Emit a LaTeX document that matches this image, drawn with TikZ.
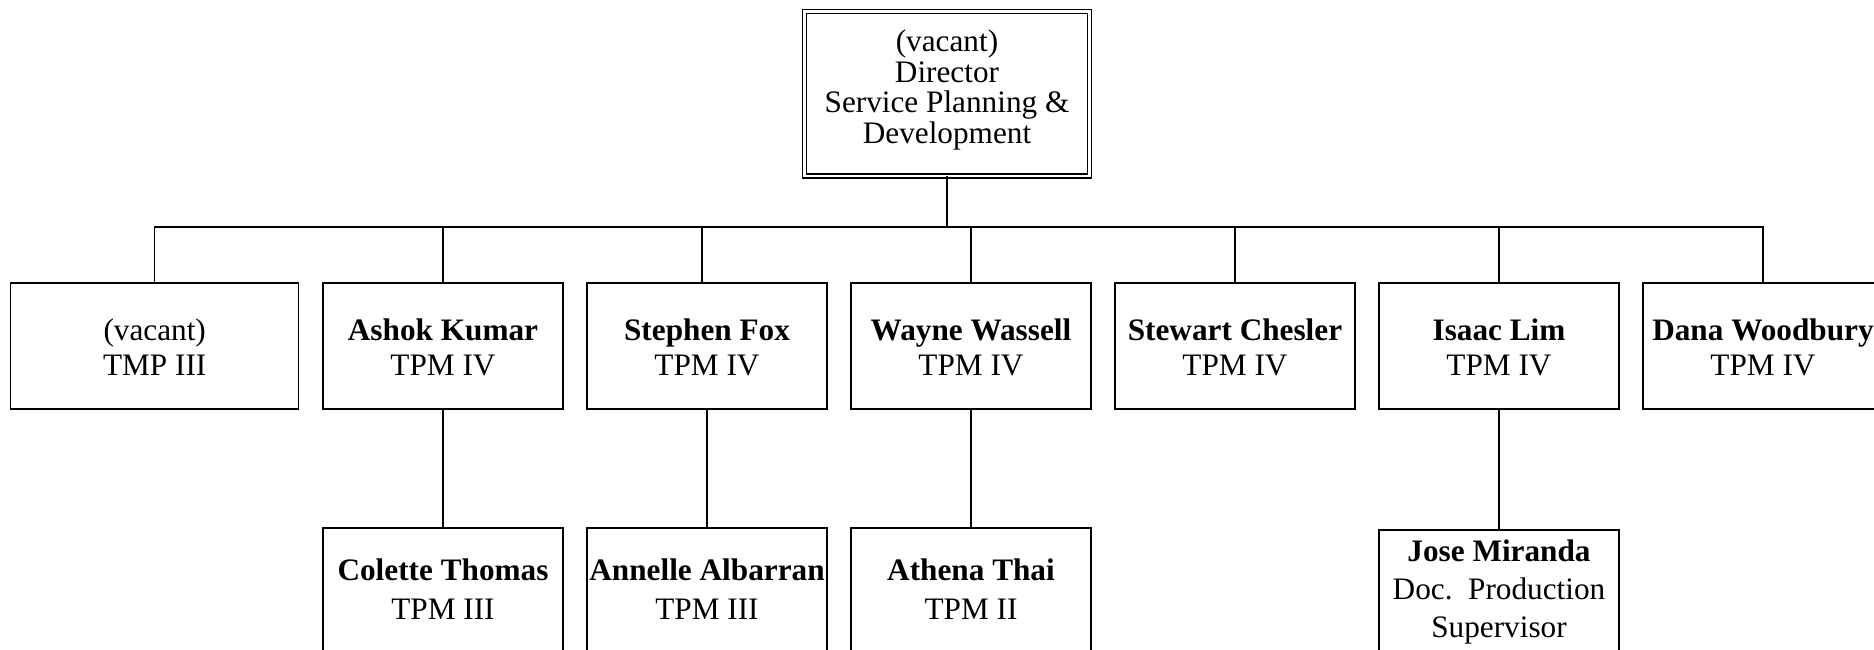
\documentclass[tikz,border=0pt]{standalone}
\usepackage{fontspec}
\setmainfont{Liberation Serif}
\begin{document}
\begin{tikzpicture}[x=0.4pt,y=-0.4pt,
  box/.style={draw, line width=0.6pt, inner sep=0pt, outer sep=0pt, minimum width=96pt, minimum height=50.4pt},
  lowbox/.style={box, minimum height=56pt},
  dirbox/.style={draw, line width=0.6pt, double, double distance=1pt, inner sep=0pt, outer sep=0pt, minimum width=114pt, minimum height=65.9pt},
  txt/.style={align=center, inner sep=0pt, font=\fontsize{12.5}{14}\selectfont},
  lowtxt/.style={txt, font=\fontsize{12.5}{15.6}\selectfont},
  dirtxt/.style={txt, font=\fontsize{12.5}{12.3}\selectfont},
  jtxt/.style={txt, font=\fontsize{12.5}{15.2}\selectfont},
  link/.style={draw, line width=0.6pt}]
\clip (0,0) rectangle (1874,649);
% director
\node[dirbox] (dir) at (947.2,93.7) {};
\node[dirtxt] (dirt) at (947,90) {(vacant)\\Director\\Service Planning \&\\Development};
\coordinate (busL) at (155,227);
\coordinate (busR) at (1763,227);
% level 1
\node[box, minimum width=115.2pt] (v1) at (154.7,346) {};
\node[txt] (v1t) at (154.7,347) {(vacant)\\TMP III};
\node[box] (ak) at (443,346) {};
\node[txt] (akt) at (443,347) {\textbf{Ashok Kumar}\\TPM IV};
\node[box] (sf) at (707,346) {};
\node[txt] (sft) at (707,347) {\textbf{Stephen Fox}\\TPM IV};
\node[box] (ww) at (971,346) {};
\node[txt] (wwt) at (971,347) {\textbf{Wayne Wassell}\\TPM IV};
\node[box] (sc) at (1235,346) {};
\node[txt] (sct) at (1235,347) {\textbf{Stewart Chesler}\\TPM IV};
\node[box] (il) at (1499,346) {};
\node[txt] (ilt) at (1499,347) {\textbf{Isaac Lim}\\TPM IV};
\node[box] (dw) at (1763,346) {};
\node[txt] (dwt) at (1763,347) {\textbf{Dana Woodbury}\\TPM IV};
% level 2
\node[lowbox] (ct) at (443,598) {};
\node[lowtxt] (ctt) at (443,589) {\textbf{Colette Thomas}\\TPM III};
\node[lowbox] (aa) at (707,598) {};
\node[lowtxt] (aat) at (707,589) {\textbf{Annelle Albarran}\\TPM III};
\node[lowbox] (at) at (971,598) {};
\node[lowtxt] (att) at (971,589) {\textbf{Athena Thai}\\TPM II};
\node[lowbox] (jm) at (1499,600) {};
\node[jtxt] (jmt) at (1499,592) {\textbf{Jose Miranda}\\Doc.\ \ Production\\Supervisor};
% connectors
\draw[link] (dir.south) -- (dir.south |- busL);
\draw[link] (v1.north) -- (v1.north |- busL) -- (busR) -- (dw.north);
\draw[link] (ak.north) -- (ak.north |- busL);
\draw[link] ([xshift=-2pt]sf.north) -- ([xshift=-2pt]sf.north |- busL);
\draw[link] (ww.north) -- (ww.north |- busL);
\draw[link] (sc.north) -- (sc.north |- busL);
\draw[link] (il.north) -- (il.north |- busL);
\draw[link] (ak.south) -- (ct.north);
\draw[link] (sf.south) -- (aa.north);
\draw[link] (ww.south) -- (at.north);
\draw[link] (il.south) -- (jm.north);
\end{tikzpicture}
\end{document}
